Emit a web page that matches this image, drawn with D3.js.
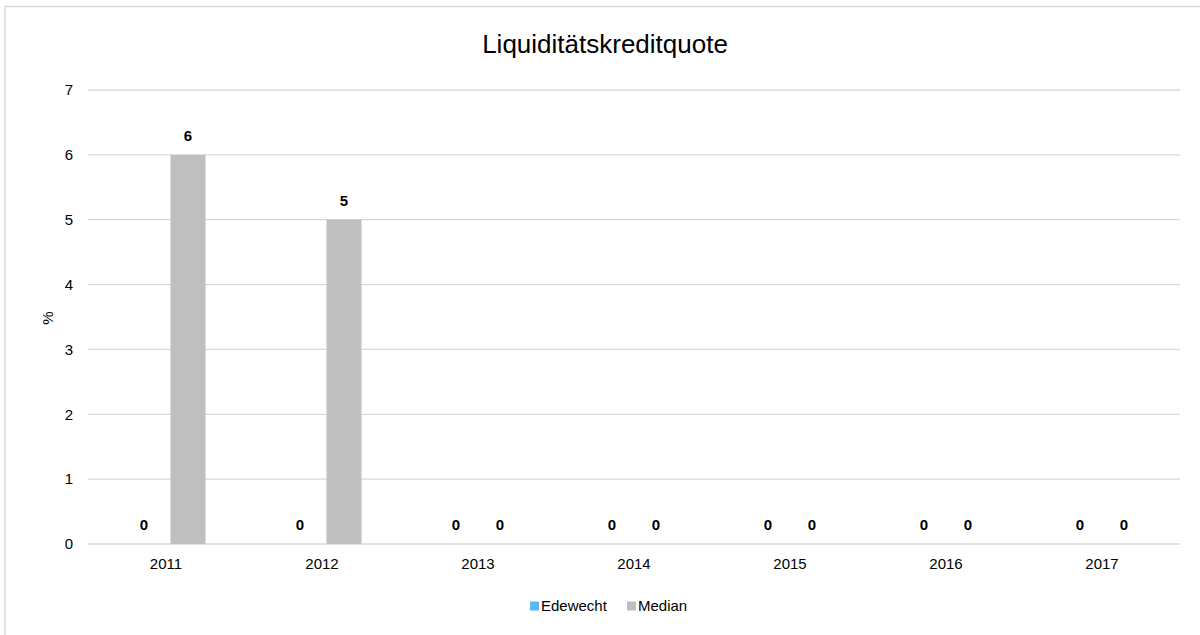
<!DOCTYPE html>
<head>
  <meta charset="utf-8">
  <script src="https://d3js.org/d3.v7.min.js"></script>
  <style>
    body { margin:0; background:#fff; overflow:hidden; }
    text { font-family: "Liberation Sans", Arial, sans-serif; fill:#000; }
  </style>
</head>
<body>
  <script>
    // chart values
    var years = ['2011','2012','2013','2014','2015','2016','2017'];
    var seriesNames = ['Edewecht','Median'];
    var edewecht = [0,0,0,0,0,0,0];
    var median = [6,5,0,0,0,0,0];
    var yTicks = [0,1,2,3,4,5,6,7];
    var colors = ['#5eb6f6','#bfbfbf'];

    var width = 1200, height = 635;
    var margin = {top: 90, left: 88};
    var innerWidth = 1180 - margin.left;
    var innerHeight = 544 - margin.top;

    var svg = d3.select('body').append('svg')
      .attr('width', width).attr('height', height);

    // outer frame (runs past the right and bottom edges)
    svg.append('path')
      .attr('d', 'M5,' + (height + 5) + 'V6.5H' + (width + 5))
      .attr('fill', 'none').attr('stroke', '#d9d9d9').attr('stroke-width', 1.5);

    var g = svg.append('g').attr('transform', `translate(${margin.left},${margin.top})`);

    var x = d3.scaleBand().domain(years).range([0, innerWidth]);
    var y = d3.scaleLinear().domain([0, 7]).range([innerHeight, 0]);

    var barW = 35, gap = 9;
    var offsets = [-(barW + gap) / 2, (barW + gap) / 2];

    // gridlines
    g.selectAll('.grid').data(yTicks).enter().append('line')
      .attr('class', 'grid')
      .attr('x1', 0).attr('x2', innerWidth)
      .attr('y1', d => y(d)).attr('y2', d => y(d))
      .attr('stroke', '#d9d9d9').attr('stroke-width', 1.3);

    // y tick labels
    g.selectAll('.ytick').data(yTicks).enter().append('text')
      .attr('class', 'ytick')
      .attr('x', -15).attr('y', d => y(d))
      .attr('dy', '0.35em').attr('text-anchor', 'end')
      .style('font-size', '15px').text(d => d);

    // x tick labels
    g.selectAll('.xtick').data(years).enter().append('text')
      .attr('class', 'xtick')
      .attr('x', d => x(d) + x.bandwidth() / 2)
      .attr('y', innerHeight + 25)
      .attr('text-anchor', 'middle')
      .style('font-size', '15px').text(d => d);

    var series = [edewecht, median];
    series.forEach(function(vals, i) {
      var data = years.map((yr, j) => ({year: yr, v: vals[j]}));
      g.selectAll('.bar' + i).data(data).enter().append('rect')
        .attr('class', 'bar' + i)
        .attr('x', d => x(d.year) + x.bandwidth() / 2 + offsets[i] - barW / 2)
        .attr('y', d => y(d.v))
        .attr('width', barW)
        .attr('height', d => innerHeight - y(d.v))
        .attr('fill', colors[i]);
      g.selectAll('.lab' + i).data(data).enter().append('text')
        .attr('class', 'lab' + i)
        .attr('x', d => x(d.year) + x.bandwidth() / 2 + offsets[i])
        .attr('y', d => y(d.v) - 14)
        .attr('text-anchor', 'middle')
        .style('font-size', '15px').style('font-weight', 'bold')
        .text(d => d.v);
    });

    // title
    svg.append('text')
      .attr('x', 605).attr('y', 53)
      .attr('text-anchor', 'middle')
      .style('font-size', '26px')
      .text('Liquiditätskreditquote');

    // y axis title
    svg.append('text')
      .attr('transform', 'translate(53,318) rotate(-90)')
      .attr('text-anchor', 'middle')
      .style('font-size', '15px')
      .text('%');

    // legend
    var legend = svg.append('g').attr('transform', 'translate(530,606)');
    var lx = [0, 97];
    seriesNames.forEach(function(name, i) {
      legend.append('rect')
        .attr('x', lx[i]).attr('y', -4.5)
        .attr('width', 9).attr('height', 9)
        .attr('fill', colors[i]);
      legend.append('text')
        .attr('x', lx[i] + 11).attr('y', 0)
        .attr('dy', '0.35em')
        .style('font-size', '15px')
        .text(name);
    });
  </script>
</body>
